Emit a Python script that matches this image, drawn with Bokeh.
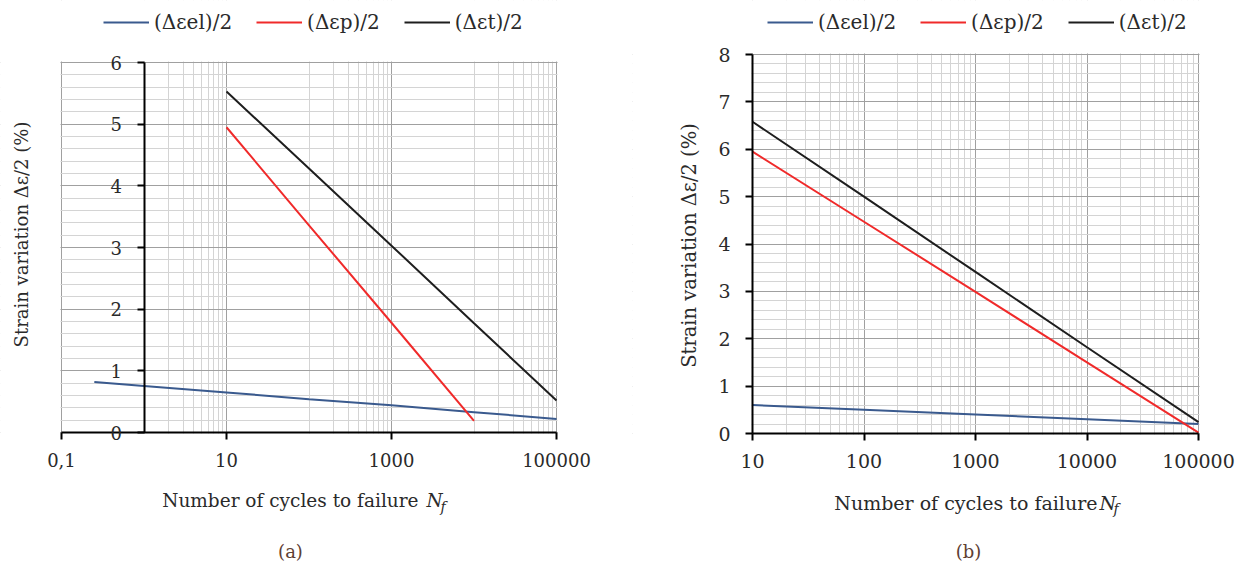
import math
from bokeh.plotting import figure
from bokeh.layouts import row
from bokeh.models import (FixedTicker, Legend, LegendItem, Label, Range1d,
                          BoxAnnotation)
from bokeh.embed import file_html
from bokeh.resources import INLINE

# ---------------- data: panel (a) ----------------
a_el_n = [0.25, 1, 10, 100, 1000, 10000, 100000]
a_el_v = [0.82, 0.755, 0.65, 0.54, 0.44, 0.33, 0.22]
a_p_n = [10, 100, 1000, 10000]
a_p_v = [4.95, 3.36, 1.78, 0.19]
a_t_n = [10, 100, 1000, 10000, 100000]
a_t_v = [5.53, 4.28, 3.03, 1.77, 0.52]
a_xticks = [0.1, 10, 1000, 100000]
a_xlabels = ["0,1", "10", "1000", "100000"]
a_yticks = [0, 1, 2, 3, 4, 5, 6]

# ---------------- data: panel (b) ----------------
b_n = [10, 100, 1000, 10000, 100000]
b_el_v = [0.60, 0.50, 0.40, 0.30, 0.20]
b_p_v = [5.95, 4.47, 2.99, 1.50, 0.02]
b_t_v = [6.58, 5.00, 3.41, 1.82, 0.24]
b_xticks = [10, 100, 1000, 10000, 100000]
b_xlabels = ["10", "100", "1000", "10000", "100000"]
b_yticks = [0, 1, 2, 3, 4, 5, 6, 7, 8]

series_names = ["(\u0394\u03b5el)/2", "(\u0394\u03b5p)/2", "(\u0394\u03b5t)/2"]
x_title = "Number of cycles to failure"
y_title = "Strain variation \u0394\u03b5/2 (%)"

SERIF = "DejaVu Serif"
TXT = "#2a2a2a"
CAP = "#5e4034"
BLUE = "#3a5a8e"
RED = "#f02a2a"
BLACK = "#1e1e1e"
MAJ = "#a0a0a0"
MINC = "#d4d4d4"
H = 565


class Panel:
    """Maps page pixels to data coordinates for one figure whose frame is the canvas."""

    def __init__(self, off, width, xlo, xhi, px_l, px_r, ylo, yhi, py_b, py_t):
        self.off, self.w = off, width
        self.ppd = (px_r - px_l) / (math.log10(xhi) - math.log10(xlo))
        self.lx0 = math.log10(xlo) - (px_l - off) / self.ppd
        self.ppu = (py_b - py_t) / (yhi - ylo)
        self.y_top = yhi + py_t / self.ppu
        self.chart = (xlo, xhi, ylo, yhi)

    def x(self, px):
        return 10 ** (self.lx0 + (px - self.off) / self.ppd)

    def y(self, py):
        return self.y_top - py / self.ppu


def build(g, xticks, xlabels, yticks, xminors, yminors, series, yaxis_at,
          tick_fs, leg_xy, ylab, xlab, cap, leg_fs="20px"):
    xlo, xhi, ylo, yhi = g.chart
    p = figure(x_axis_type="log",
               x_range=Range1d(g.x(g.off), g.x(g.off + g.w)),
               y_range=Range1d(g.y(H), g.y(0)),
               width=g.w, height=H, output_backend="svg", toolbar_location=None,
               min_border=0, min_border_left=0, min_border_right=0,
               min_border_top=0, min_border_bottom=0)
    p.outline_line_color = None
    p.background_fill_color = "white"
    p.border_fill_color = "white"

    # grids (restricted to the chart rectangle, the rest is masked)
    p.xgrid.ticker = FixedTicker(ticks=xticks, minor_ticks=xminors)
    p.xgrid.grid_line_color = MAJ
    p.xgrid.minor_grid_line_color = MINC
    p.ygrid.ticker = FixedTicker(ticks=yticks, minor_ticks=yminors)
    p.ygrid.grid_line_color = MAJ
    p.ygrid.minor_grid_line_color = MINC
    ex = 1.0 / g.ppd
    ey = 1.0 / g.ppu
    far_l, far_r = g.x(g.off - 50), g.x(g.off + g.w + 50)
    far_b, far_t = g.y(H + 50), g.y(-50)
    masks = [
        dict(left=far_l, right=far_r, bottom=yhi + ey, top=far_t),
        dict(left=far_l, right=far_r, bottom=far_b, top=ylo - ey),
        dict(left=far_l, right=10 ** (math.log10(xlo) - ex), bottom=far_b, top=far_t),
        dict(left=10 ** (math.log10(xhi) + ex), right=far_r, bottom=far_b, top=far_t),
    ]
    for kw in masks:
        p.add_layout(BoxAnnotation(fill_color="white", fill_alpha=1.0,
                                   line_color=None, level="underlay", **kw))

    # axes drawn at fixed data locations
    xa, ya = p.xaxis[0], p.yaxis[0]
    xa.fixed_location = ylo
    xa.bounds = (xlo, xhi)
    ya.fixed_location = yaxis_at
    ya.bounds = (ylo, yhi)
    for ax in (xa, ya):
        ax.axis_line_color = "black"
        ax.axis_line_width = 2
        ax.major_tick_line_color = "black"
        ax.major_tick_line_width = 2
        ax.major_tick_out = 7
        ax.major_tick_in = 0
        ax.minor_tick_line_color = None
        ax.major_label_text_font = SERIF
        ax.major_label_text_font_size = tick_fs
        ax.major_label_text_color = TXT
    xa.ticker = FixedTicker(ticks=xticks)
    xa.major_label_overrides = {t: l for t, l in zip(xticks, xlabels)}
    xa.major_label_standoff = 13
    ya.ticker = FixedTicker(ticks=yticks)
    ya.major_label_standoff = 15

    items = []
    for (xs, ys, col), name in zip(series, series_names):
        r = p.line(xs, ys, line_color=col, line_width=2)
        items.append(LegendItem(label=name, renderers=[r]))
    lx, ly = leg_xy
    leg = Legend(items=items, orientation="horizontal",
                 location=(lx - g.off, H - ly - 13),
                 border_line_color=None, background_fill_alpha=0,
                 padding=0, margin=0, spacing=24, glyph_width=46,
                 glyph_height=26, label_height=26, label_standoff=5,
                 label_text_font=SERIF, label_text_font_size=leg_fs,
                 label_text_color=TXT, label_text_baseline="middle")
    p.add_layout(leg)

    def lab(px, py, text, **kw):
        p.add_layout(Label(x=g.x(px), y=g.y(py), text=text, text_font=SERIF,
                           text_baseline="middle", **kw))

    yx, yy, yfs = ylab
    lab(yx, yy, y_title, angle=math.pi / 2, text_align="center",
        text_font_size=yfs, text_color=TXT)
    end, xy, nx, fx, xfs = xlab
    lab(end, xy, x_title, text_align="right", text_font_size=xfs, text_color=TXT)
    lab(nx, xy, "N", text_align="left", text_font_style="italic",
        text_font_size=xfs, text_color=TXT)
    lab(fx, xy + 6, "f", text_align="left", text_font_style="italic",
        text_font_size="14px", text_color=TXT)
    cx, cy, ctext = cap
    lab(cx, cy, ctext, text_align="center", text_font_size="18px", text_color=CAP)
    return p


a_xminors = [m * 10 * k for m in a_xticks[:-1] for k in range(1, 10)]
a_yminors = [round(i * 0.2, 1) for i in range(31)]
b_xminors = [m * k for m in b_xticks[:-1] for k in range(2, 10)]
b_yminors = [round(i * 0.2, 1) for i in range(41)]

ga = Panel(0, 632, 0.1, 100000, 61, 556, 0, 6, 432, 62)
gb = Panel(632, 603, 10, 100000, 752, 1198, 0, 8, 433, 54)

pa = build(ga, a_xticks, a_xlabels, a_yticks, a_xminors, a_yminors,
           [(a_el_n, a_el_v, BLUE), (a_p_n, a_p_v, RED), (a_t_n, a_t_v, BLACK)],
           1, "18px", (103, 22), (21, 234, "18px"), (418, 500, 426, 440, "18.5px"),
           (290, 551, "(a)"))
pb = build(gb, b_xticks, b_xlabels, b_yticks, b_xminors, b_yminors,
           [(b_n, b_el_v, BLUE), (b_n, b_p_v, RED), (b_n, b_t_v, BLACK)],
           10, "19px", (767, 22), (689, 245, "19.5px"), (1097, 502, 1099, 1113, "19px"),
           (968, 551, "(b)"))

layout = row(pa, pb)
open("out.html", "w").write(file_html(layout, INLINE))
